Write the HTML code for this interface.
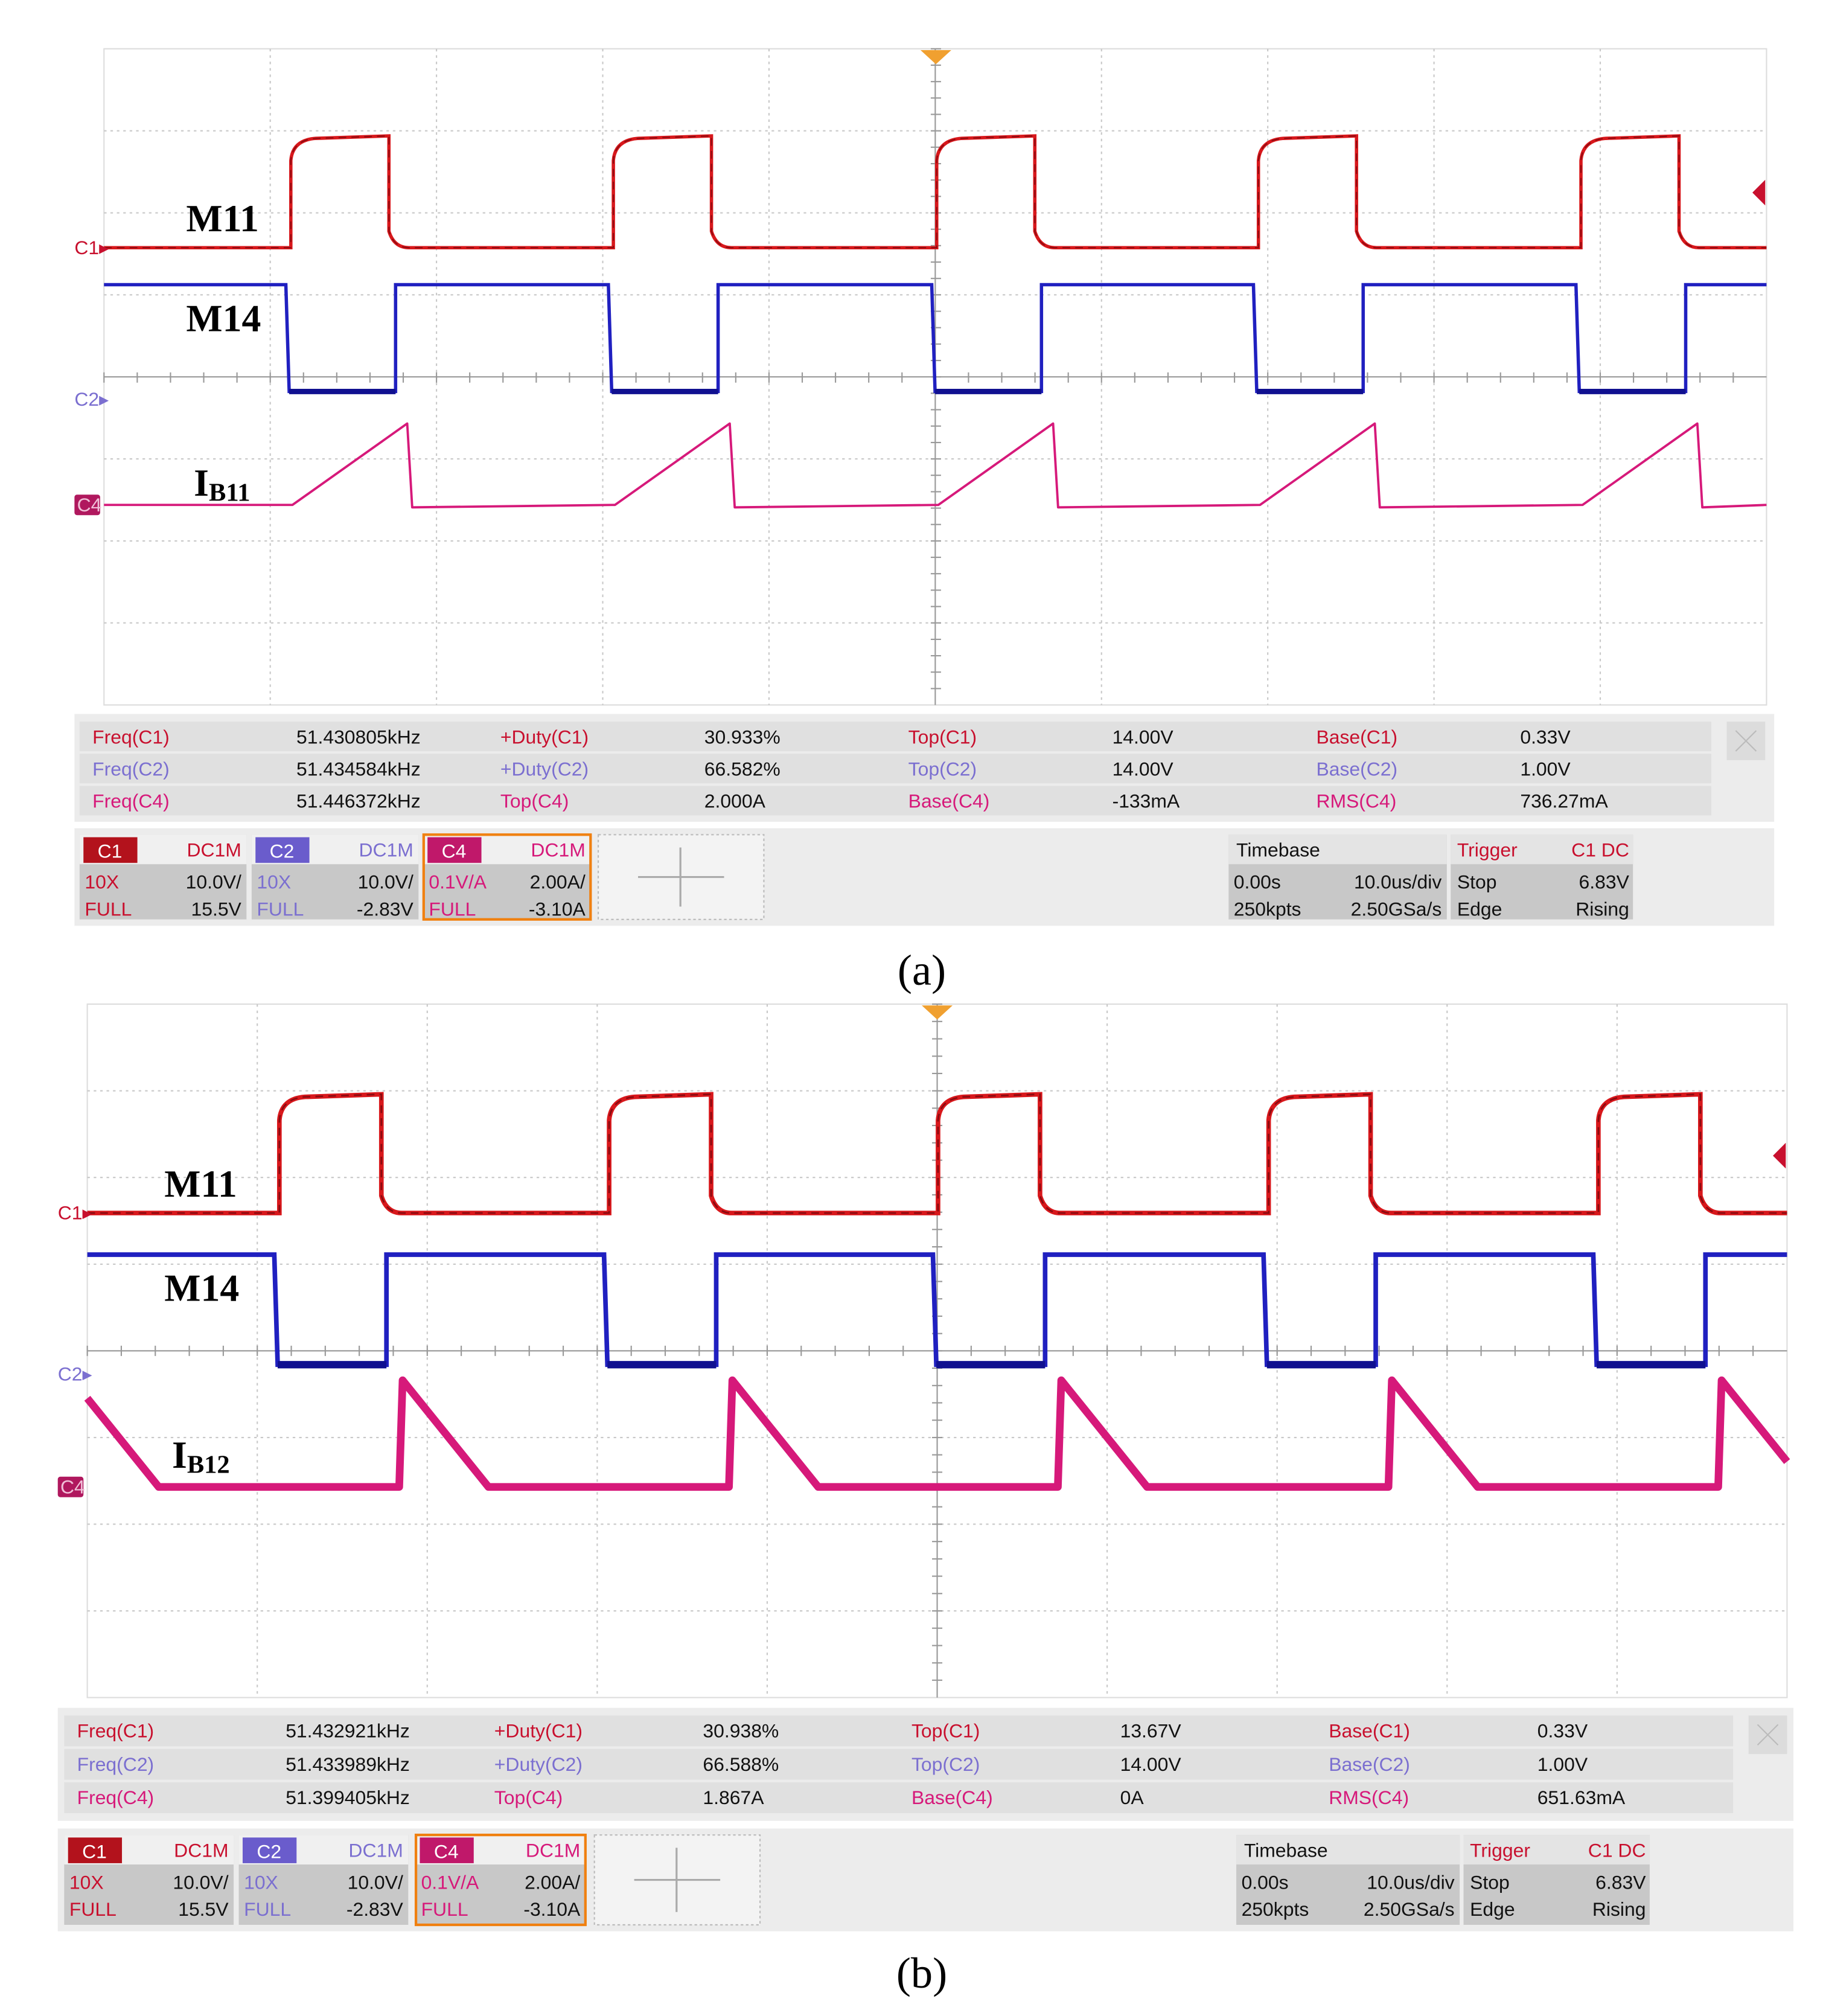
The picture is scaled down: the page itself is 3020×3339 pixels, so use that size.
<!DOCTYPE html>
<html><head><meta charset="utf-8">
<style>
html,body{margin:0;padding:0;background:#fff}
svg{display:block}
.t{font-family:"Liberation Sans",sans-serif;font-size:15px}
.lbl{font-family:"Liberation Serif",serif;font-weight:bold;font-size:30px}
</style></head>
<body>
<svg id="root" width="3020" height="3339" viewBox="0 0 1420 1570" xmlns="http://www.w3.org/2000/svg">
<rect width="1420" height="1570" fill="#fff"/>
</svg>
<script>
// ---- data (time in µs, levels in divisions) ----
const risesA = [-38.8, -19.4, 0.05, 19.4, 38.8];
const risesB = [-38.7, -19.3, 0.05, 19.5, 38.9];
const c1HighDurA = 5.9, c1HighDurB = 6.0;
const c1LevelsA = [1.58, 2.94];
const c1LevelsB = [1.59, 2.96];
const c2LevelsA = [1.13, -0.17];
const c2LevelsB = [1.11, -0.16];
const c2LowDur = 6.6;
const c4LevelsA = [-1.55, -0.56];
const c4LevelsB = [-1.57, -0.34];
const c4RampA = [0.1, 7.0, 7.3];
const c4RampB = [7.25, 12.3];
const measLabelsA = [["Freq(C1)","51.430805kHz","+Duty(C1)","30.933%","Top(C1)","14.00V","Base(C1)","0.33V"],
 ["Freq(C2)","51.434584kHz","+Duty(C2)","66.582%","Top(C2)","14.00V","Base(C2)","1.00V"],
 ["Freq(C4)","51.446372kHz","Top(C4)","2.000A","Base(C4)","-133mA","RMS(C4)","736.27mA"]];
const measLabelsB = [["Freq(C1)","51.432921kHz","+Duty(C1)","30.938%","Top(C1)","13.67V","Base(C1)","0.33V"],
 ["Freq(C2)","51.433989kHz","+Duty(C2)","66.588%","Top(C2)","14.00V","Base(C2)","1.00V"],
 ["Freq(C4)","51.399405kHz","Top(C4)","1.867A","Base(C4)","0A","RMS(C4)","651.63mA"]];

const NS="http://www.w3.org/2000/svg";
const root=document.getElementById('root');
function mk(tag,attrs,parent){const e=document.createElementNS(NS,tag);for(const k in attrs)e.setAttribute(k,attrs[k]);(parent||root).appendChild(e);return e;}
function txt(x,y,s,fill,parent,anchor){const e=mk('text',{x:x,y:y,fill:fill,'class':'t','text-anchor':anchor||'start'},parent);e.textContent=s;return e;}
const RED="#c8102e",PUR="#7b6fd0",MAG="#d6197a";

function panel(P){
  const g=mk('g',{});
  
  
  const X=t=>P.cx+t*P.sx, Y=d=>P.cy-d*P.sy;
  mk('rect',{x:P.x0,y:P.y0,width:P.x1-P.x0,height:P.y1-P.y0,fill:'#fff',stroke:'#ddd'},g);
  for(let i=1;i<10;i++){const x=P.x0+i*(P.x1-P.x0)/10;
    mk('line',{x1:x,y1:P.y0,x2:x,y2:P.y1,stroke:i==5?'#999':'#c8c8c8','stroke-dasharray':i==5?'':'2,3'},g);}
  for(let j=1;j<8;j++){const y=P.y0+j*(P.y1-P.y0)/8;
    mk('line',{x1:P.x0,y1:y,x2:P.x1,y2:y,stroke:j==4?'#999':'#c8c8c8','stroke-dasharray':j==4?'':'2,3'},g);}
  for(let i=0;i<50;i++){const x=P.x0+i*(P.x1-P.x0)/50;mk('line',{x1:x,y1:P.cy-4,x2:x,y2:P.cy+4,stroke:'#999'},g);}
  for(let j=0;j<40;j++){const y=P.y0+j*(P.y1-P.y0)/40;mk('line',{x1:P.cx-4,y1:y,x2:P.cx+4,y2:y,stroke:'#999'},g);}
  const tL=(P.x0-P.cx)/P.sx, tR=(P.x1-P.cx)/P.sx;
  // C1
  let d=`M${X(tL)},${Y(P.c1[0])}`;
  P.rises.forEach(r=>{const f=r+P.c1Dur;
    d+=`L${X(r)},${Y(P.c1[0])}L${X(r)},${Y(P.c1[1]-0.3)}Q${X(r+0.1)},${Y(P.c1[1]-0.05)} ${X(r+1.5)},${Y(P.c1[1]-0.03)}L${X(f)},${Y(P.c1[1])}L${X(f)},${Y(P.c1[0]+0.2)}Q${X(f+0.3)},${Y(P.c1[0])} ${X(f+1.2)},${Y(P.c1[0])}`;});
  d+=`L${X(tR)},${Y(P.c1[0])}`;
  const p1=mk('path',{d:d,fill:'none',stroke:'#d8181c','stroke-width':P.w},g);
  
  mk('path',{d:d,fill:'none',stroke:'#8a0a10','stroke-width':P.w*0.35,'stroke-dasharray':'6,4'},g);
  // C2
  d=`M${X(tL)},${Y(P.c2[0])}`;
  P.rises.forEach(r=>{const f=r-0.3, u=r-0.3+c2LowDur;
    d+=`L${X(f)},${Y(P.c2[0])}L${X(f+0.2)},${Y(P.c2[1])}L${X(u)},${Y(P.c2[1])}L${X(u)},${Y(P.c2[0])}`;});
  d+=`L${X(tR)},${Y(P.c2[0])}`;
  const p2=mk('path',{d:d,fill:'none',stroke:'#2020c0','stroke-width':P.w},g);
  
  P.rises.forEach(r=>{const f=r-0.1, u=r-0.3+c2LowDur;
    mk('line',{x1:X(f),y1:Y(P.c2[1]),x2:X(u),y2:Y(P.c2[1]),stroke:'#101090','stroke-width':P.w*1.6},g);});
  // C4
  d=P.c4fn(X,Y,tL,tR);
  const p4=mk('path',{d:d,fill:'none',stroke:MAG,'stroke-width':P.w4,'stroke-linejoin':'round'},g);
  
  // markers
  const m1=txt(P.x0-23,Y(P.c1[0])+5,'C1▸',RED,g);m1.setAttribute('font-size','13');
  
  const m2=txt(P.x0-23,P.c2mark+5,'C2▸',PUR,g);m2.setAttribute('font-size','13');
  
  const m4b=mk('rect',{x:P.x0-23,y:Y(P.c4[0])-8,width:20,height:16,fill:'#b0185e',rx:2},g);
  
  const m4=txt(P.x0-21,Y(P.c4[0])+5,'C4','#f0c0d8',g);m4.setAttribute('font-size','13');
  const tt=mk('path',{d:`M${P.cx-12},${P.y0+1}L${P.cx+12},${P.y0+1}L${P.cx},${P.y0+12}Z`,fill:'#f0a030'},g);
  
  const tl=mk('path',{d:`M${P.x1-11},${P.trig}L${P.x1-1},${P.trig-10}L${P.x1-1},${P.trig+10}Z`,fill:RED},g);
  
  // labels
  const a=mk('text',{x:P.lx,y:P.ly[0],'class':'lbl',fill:'#000'},g);a.textContent='M11';
  
  const b=mk('text',{x:P.lx,y:P.ly[1],'class':'lbl',fill:'#000'},g);b.textContent='M14';
  
  const c=mk('text',{x:P.lx+6,y:P.ly[2],'class':'lbl',fill:'#000'},g);c.textContent='I';
  const cs=mk('tspan',{'font-size':'20',dy:'4'},c);cs.textContent=P.ib;
  

  // measurement table
  const M=P.meas;
  mk('rect',{x:M.x0,y:M.y0,width:M.x1-M.x0,height:M.h,fill:'#ececec'},g);
  const colW=(M.cEnd-M.cx0)/8;
  P.labels.forEach((row,ri)=>{
    const ry=M.y0+6+ri*M.rh;
    mk('rect',{x:M.cx0,y:ry,width:M.cEnd-M.cx0,height:M.rh-2,fill:'#e0e0e0'},g);
    row.forEach((s,ci)=>{
      const col = ci%2==1 ? '#111' : (s.includes('C1')?RED:(s.includes('C2')?PUR:MAG));
      const e=txt(M.cx0+ci*colW+10,ry+17,s,col,g);
      
      
    });
  });
  const cb=mk('rect',{x:M.cEnd+12,y:M.y0+6,width:30,height:30,fill:'#dcdcdc'},g);
  
  mk('path',{d:`M${M.cEnd+19},${M.y0+13}L${M.cEnd+35},${M.y0+29}M${M.cEnd+35},${M.y0+13}L${M.cEnd+19},${M.y0+29}`,stroke:'#bbb'},g);
  // bottom bar
  const B=P.bar;
  mk('rect',{x:M.x0,y:B.y0,width:M.x1-M.x0,height:B.h,fill:'#ececec'},g);
  const chans=[['C1',RED,'#b3121c','10X','10.0V/','15.5V'],['C2',PUR,'#6a5ccc','10X','10.0V/','-2.83V'],['C4',MAG,'#c0186a','0.1V/A','2.00A/','-3.10A']];
  chans.forEach((c,i)=>{
    const x=B.cx[i], w=B.cw;
    const box=mk('g',{},g);
    
    mk('rect',{x:x,y:B.y0+5,width:w,height:B.h-10,fill:'#c8c8c8'},box);
    mk('rect',{x:x,y:B.y0+5,width:w,height:23,fill:'#f0f0f0'},box);
    mk('rect',{x:x+3,y:B.y0+7,width:42,height:20,fill:c[2]},box);
    txt(x+14,B.y0+23,c[0],'#fff',box);
    txt(x+w-4,B.y0+22,'DC1M',c[1],box,'end');
    txt(x+4,B.y0+47,c[3],c[1],box);txt(x+w-4,B.y0+47,c[4],'#111',box,'end');
    txt(x+4,B.y0+68,'FULL',c[1],box);txt(x+w-4,B.y0+68,c[5],'#111',box,'end');
    if(i==2)mk('rect',{x:x,y:B.y0+5,width:w,height:B.h-10,fill:'none',stroke:'#f08010','stroke-width':2},box);
  });
  const ad=mk('rect',{x:B.ax,y:B.y0+5,width:129,height:B.h-10,fill:'#f3f3f3',stroke:'#bbb','stroke-dasharray':'2,2'},g);
  
  mk('path',{d:`M${B.ax+31},${B.y0+B.h/2}L${B.ax+98},${B.y0+B.h/2}M${B.ax+64},${B.y0+15}L${B.ax+64},${B.y0+B.h-15}`,stroke:'#aaa','stroke-width':1.5},g);
  const tb=mk('g',{},g);
  mk('rect',{x:B.tx,y:B.y0+5,width:B.tw,height:B.h-10,fill:'#c8c8c8'},tb);
  mk('rect',{x:B.tx,y:B.y0+5,width:B.tw,height:23,fill:'#e4e4e4'},tb);
  txt(B.tx+6,B.y0+22,'Timebase','#111',tb);
  txt(B.tx+4,B.y0+47,'0.00s','#111',tb);txt(B.tx+B.tw-4,B.y0+47,'10.0us/div','#111',tb,'end');
  txt(B.tx+4,B.y0+68,'250kpts','#111',tb);txt(B.tx+B.tw-4,B.y0+68,'2.50GSa/s','#111',tb,'end');
  const tr=mk('g',{},g);
  mk('rect',{x:B.rx,y:B.y0+5,width:B.rw,height:B.h-10,fill:'#c8c8c8'},tr);
  mk('rect',{x:B.rx,y:B.y0+5,width:B.rw,height:23,fill:'#e4e4e4'},tr);
  txt(B.rx+5,B.y0+22,'Trigger',RED,tr);txt(B.rx+B.rw-3,B.y0+22,'C1 DC',RED,tr,'end');
  txt(B.rx+5,B.y0+47,'Stop','#111',tr);txt(B.rx+B.rw-3,B.y0+47,'6.83V','#111',tr,'end');
  txt(B.rx+5,B.y0+68,'Edge','#111',tr);txt(B.rx+B.rw-3,B.y0+68,'Rising','#111',tr,'end');
  const cap=mk('text',{x:718,y:P.cap,'text-anchor':'middle','font-family':'Liberation Serif, serif','font-size':'34',fill:'#000'},g);
  cap.textContent=P.capText;
}

panel({name:'panel-a',x0:81,x1:1376,y0:38,y1:549,cx:729,cy:294,sx:12.95,sy:64,w:2.6,w4:1.8,
  rises:risesA,c1Dur:c1HighDurA,c1:c1LevelsA,c2:c2LevelsA,c4:c4LevelsA,c2mark:311,trig:150,
  lx:145,ly:[180,258,386],ib:'B11',
  c4fn:(X,Y,tL,tR)=>{let d=`M${X(tL)},${Y(c4LevelsA[0])}`;
    risesA.forEach(r=>{d+=`L${X(r+c4RampA[0])},${Y(c4LevelsA[0])}L${X(r+c4RampA[1])},${Y(c4LevelsA[1])}L${X(r+c4RampA[2])},${Y(c4LevelsA[0]-0.03)}`;});
    return d+`L${X(tR)},${Y(c4LevelsA[0])}`;},
  labels:measLabelsA,meas:{x0:58,x1:1382,y0:556,h:84,rh:25,cx0:62,cEnd:1333},
  bar:{y0:645,h:76,cx:[62,196,330],cw:130,ax:466,tx:957,tw:170,rx:1130,rw:142},cap:767,capText:'(a)'});
panel({name:'panel-b',x0:68,x1:1392,y0:782,y1:1322,cx:730,cy:1052,sx:13.24,sy:67.5,w:3.6,w4:6,
  rises:risesB,c1Dur:c1HighDurB,c1:c1LevelsB,c2:c2LevelsB,c4:c4LevelsB,c2mark:1070,trig:900,
  lx:128,ly:[932,1013,1143],ib:'B12',
  c4fn:(X,Y,tL,tR)=>{const per=risesB[1]-risesB[0];const b=c4LevelsB[0],pk=c4LevelsB[1];
    const prev=risesB[0]-per;let d=`M${X(tL)},${Y(pk+(b-pk)*((tL-(prev+c4RampB[0]))/(c4RampB[1]-c4RampB[0])))}`;
    d+=`L${X(prev+c4RampB[1])},${Y(b)}`;
    risesB.forEach(r=>{const s=r+c4RampB[0],e=r+c4RampB[1];
      if(s<tR){d+=`L${X(s-0.2)},${Y(b)}L${X(s)},${Y(pk)}`;
        if(e<tR)d+=`L${X(e)},${Y(b)}`;else d+=`L${X(tR)},${Y(pk+(b-pk)*(tR-s)/(e-s))}`;}});
    const last=risesB[risesB.length-1]+c4RampB[1];if(last<tR)d+=`L${X(tR)},${Y(b)}`;
    return d;},
  labels:measLabelsB,meas:{x0:45,x1:1397,y0:1330,h:88,rh:26,cx0:50,cEnd:1350},
  bar:{y0:1424,h:80,cx:[50,186,324],cw:132,ax:463,tx:963,tw:174,rx:1140,rw:145},cap:1548,capText:'(b)'});
</script>
</body></html>
